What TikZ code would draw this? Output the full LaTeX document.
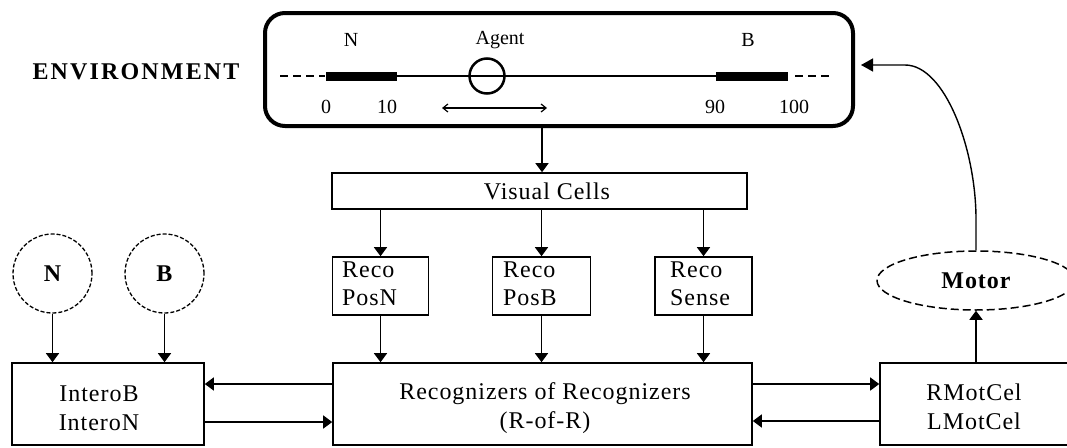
\documentclass[tikz,border=0pt]{standalone}
\usepackage{fontspec}
\setmainfont{Liberation Serif}[LetterSpace=4]
\usetikzlibrary{arrows.meta,shapes.geometric,calc}
\begin{document}
\begin{tikzpicture}[x=1pt,y=-1pt,
  bx/.style={draw, line width=1.6pt, inner sep=0pt, rectangle},
  txt/.style={font=\fontsize{24}{29}\selectfont, align=center, inner sep=0pt},
  txtl/.style={font=\fontsize{24}{28}\selectfont, align=left, anchor=west, inner sep=0pt},
  envtxt/.style={font=\fontsize{20}{22}\selectfont\addfontfeature{LetterSpace=0}, inner sep=0pt},
  arr/.style={line width=1.6pt, -{Triangle[length=9pt,width=13pt]}},
  dcirc/.style={circle, draw, line width=1.3pt, dash pattern=on 4pt off 2pt, minimum size=79pt, inner sep=0pt, font=\fontsize{24}{26}\selectfont\bfseries},
  thinline/.style={line width=2pt},
  dashline/.style={line width=2pt, dash pattern=on 8pt off 5pt},
  bar/.style={line width=9pt}
]
\fill[white] (0,0) rectangle (1067,447);
\path[use as bounding box] (0,0) rectangle (1067,447);
\clip (0,0) rectangle (1067,447);

% environment
\node[txt, font=\fontsize{24}{26}\selectfont\bfseries] (envlabel) at (136,72) {\addfontfeature{LetterSpace=9}ENVIRONMENT};
\node[draw, rectangle, rounded corners=20pt, line width=4pt, minimum width=588pt, minimum height=113pt, inner sep=0pt] (env) at (559,69.5) {};
\draw[dashline] (280,76) -- (325,76);
\draw[bar] (326,76) -- (397,76);
\draw[thinline] (397,76) -- (716,76);
\draw[bar] (716,76) -- (788,76);
\draw[dashline] (795,76) -- (833,76);
\node[circle, draw, line width=2.5pt, minimum size=35pt, inner sep=0pt] (agent) at (487,76) {};
\draw[line width=1.2pt, {Straight Barb[length=5pt,width=8pt]}-{Straight Barb[length=5pt,width=8pt]}] (442,108) -- (547,108);
\node[envtxt] (lN) at (351,40) {N};
\node[envtxt] (lAgent) at (500,40) {Agent};
\node[envtxt] (lB) at (748,40) {B};
\node[envtxt] (l0) at (326,107) {0};
\node[envtxt] (l10) at (387,107) {10};
\node[envtxt] (l90) at (715,107) {90};
\node[envtxt] (l100) at (794,107) {100};

% visual cells
\node[bx, minimum width=415pt, minimum height=36pt] (vc) at (539.5,191) {};
\node[txt] (vct) at (547,191) {Visual Cells};
\coordinate (envout) at ($(env.south)+(-17,0)$);
\draw[arr] (envout) -- (envout |- vc.north);

% recognizer boxes
\node[bx, minimum width=96pt, minimum height=58pt] (recoN) at (380.5,286) {};
\node[bx, minimum width=98pt, minimum height=58pt] (recoB) at (541.5,286) {};
\node[bx, minimum width=97pt, minimum height=58pt] (recoS) at (703.5,286) {};
\node[txtl] (recoNt) at (342,284) {Reco\\PosN};
\node[txtl] (recoBt) at (503,284) {Reco\\PosB};
\node[txtl] (recoSt) at (670,284) {Reco\\Sense};
\draw[arr] (vc.south -| recoN) -- (recoN.north);
\draw[arr] (vc.south -| recoB) -- (recoB.north);
\draw[arr] (vc.south -| recoS) -- (recoS.north);

% R-of-R
\node[bx, minimum width=419pt, minimum height=82pt] (ror) at (542.5,404) {};
\node[txt] (rort) at (545,408) {Recognizers of Recognizers\\(R-of-R)};
\draw[arr] (recoN.south) -- (recoN.south |- ror.north);
\draw[arr] (recoB.south) -- (recoB.south |- ror.north);
\draw[arr] (recoS.south) -- (recoS.south |- ror.north);

% intero
\node[bx, minimum width=192pt, minimum height=82pt] (intero) at (108,404) {};
\node[txt] (interot) at (99,408) {InteroB\\InteroN};
\node[dcirc] (cN) at (52.5,273.5) {N};
\node[dcirc] (cB) at (164.5,273.5) {B};
\draw[arr] (cN.south) -- (cN.south |- intero.north);
\draw[arr] (cB.south) -- (cB.south |- intero.north);
\draw[arr] ([yshift=20pt]ror.west) -- ([yshift=20pt]intero.east);
\draw[arr] ([yshift=-18pt]intero.east) -- ([yshift=-18pt]ror.west);

% motor cells
\node[bx, minimum width=200pt, minimum height=82pt] (motcel) at (980,404) {};
\node[txt] (motcelt) at (974,407) {RMotCel\\LMotCel};
\draw[arr] ([yshift=20pt]ror.east) -- ([yshift=20pt]motcel.west);
\draw[arr] ([yshift=-17pt]motcel.west) -- ([yshift=-17pt]ror.east);

% motor
\node[draw, ellipse, line width=1.5pt, dash pattern=on 8pt off 4pt, minimum width=198pt, minimum height=59pt, inner sep=0pt, font=\fontsize{24}{26}\selectfont\bfseries] (motor) at (976,280.5) {Motor};
\draw[arr] (motor.south |- motcel.north) -- (motor.south);
\draw[line width=1.4pt, -{Triangle[length=12pt,width=13pt]}] (motor.north) -- ++(0,-31) .. controls +(0,-70) and (945,65) .. (905,65) -- ([xshift=6pt,yshift=4.5pt]env.east);
\end{tikzpicture}
\end{document}
